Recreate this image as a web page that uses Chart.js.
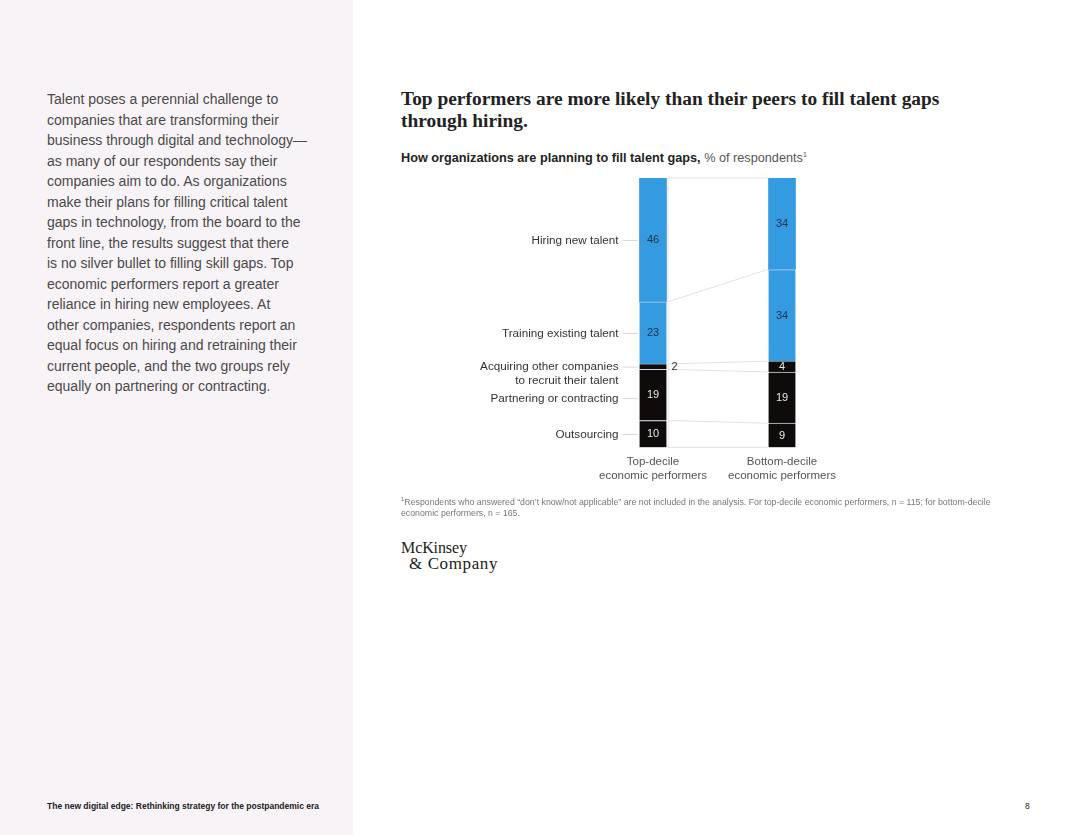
<!DOCTYPE html>
<html lang="en">
<head>
    <meta charset="UTF-8">
    <title>Talent gaps</title>
    <script src="https://cdn.jsdelivr.net/npm/chart.js"></script>
    <style>
        html, body { margin: 0; padding: 0; }
        body { width: 1080px; height: 835px; position: relative; background: #fff; overflow: hidden;
               font-family: "Liberation Sans", Arial, sans-serif; }
        .side { position: absolute; left: 0; top: 0; width: 353px; height: 835px; background: #f8f3f6; }
        .intro { position: absolute; left: 47px; top: 89px; font-size: 14px; line-height: 20.5px; color: #4a4a4a; }
        .title { position: absolute; left: 401px; top: 88px; font-family: "Liberation Serif", serif; font-weight: bold;
                 font-size: 19.4px; line-height: 22px; color: #222; }
        .subtitle { position: absolute; left: 401px; top: 151px; font-size: 12.7px; color: #222; }
        .subtitle b { font-weight: bold; }
        .subtitle span { color: #555; }
        .note { position: absolute; left: 401px; top: 494px; font-size: 8.75px; line-height: 11.5px; color: #777; }
        .logo { position: absolute; left: 401px; top: 540px; font-family: "Liberation Serif", serif; font-size: 16px;
                line-height: 16px; color: #222; }
        .logo .l1 { letter-spacing: -0.1px; }
        .logo .l2 { padding-left: 8px; font-size: 17px; letter-spacing: 0.6px; }
        .foot { position: absolute; top: 801px; font-size: 8.5px; color: #222; }
        #chart { position: absolute; left: 390px; top: 160px; }
    </style>
</head>
<body>
    <div class="side"></div>
    <div class="intro">
        Talent poses a perennial challenge to<br>
        companies that are transforming their<br>
        business through digital and technology—<br>
        as many of our respondents say their<br>
        companies aim to do. As organizations<br>
        make their plans for filling critical talent<br>
        gaps in technology, from the board to the<br>
        front line, the results suggest that there<br>
        is no silver bullet to filling skill gaps. Top<br>
        economic performers report a greater<br>
        reliance in hiring new employees. At<br>
        other companies, respondents report an<br>
        equal focus on hiring and retraining their<br>
        current people, and the two groups rely<br>
        equally on partnering or contracting.
    </div>
    <div class="title">Top performers are more likely than their peers to fill talent gaps<br>through hiring.</div>
    <div class="subtitle"><b>How organizations are planning to fill talent gaps,</b> <span>% of respondents<sup style="font-size:7px">1</sup></span></div>
    <canvas id="chart" width="480" height="340"></canvas>
    <div class="note">
        <sup style="font-size:6px">1</sup>Respondents who answered “don’t know/not applicable” are not included in the analysis. For top-decile economic performers, n = 115; for bottom-decile<br>
        economic performers, n = 165.
    </div>
    <div class="logo"><div class="l1">McKinsey</div><div class="l2">&amp; Company</div></div>
    <div class="foot" style="left:47px; font-weight:bold;">The new digital edge: Rethinking strategy for the postpandemic era</div>
    <div class="foot" style="left:1025px;">8</div>

    <script>
        // data, top of the stack first
        const groups = [['Top-decile', 'economic performers'], ['Bottom-decile', 'economic performers']];
        const methods = ['Hiring new talent', 'Training existing talent', 'Acquiring other companies\nto recruit their talent', 'Partnering or contracting', 'Outsourcing'];
        const topDecile = [46, 23, 2, 19, 10];
        const bottomDecile = [34, 34, 4, 19, 9];

        const BLUE = '#359be0';
        const BLACK = '#100b0b';
        const colors = [BLUE, BLUE, BLACK, BLACK, BLACK];

        // chart.js stacks from the bottom, so reverse
        const datasets = methods.map((m, i) => ({
            label: m,
            data: [topDecile[i], bottomDecile[i]],
            backgroundColor: colors[i],
            borderColor: i === 2 ? '#9aa0a8' : 'rgba(200,210,225,0.8)',
            borderWidth: i === 0 ? 0 : { top: 1, right: 0, bottom: 0, left: 0 },
            borderSkipped: false,
            barThickness: 27,
            textColor: colors[i] === BLUE ? '#20324a' : '#e8e8e8'
        })).reverse();

        const overlay = {
            id: 'overlay',
            afterDatasetsDraw(chart) {
                const ctx = chart.ctx;
                const metas = chart.data.datasets.map((d, i) => chart.getDatasetMeta(i));
                ctx.save();

                // connectors between the two bars + frame
                ctx.strokeStyle = '#e4e0e6';
                ctx.lineWidth = 1;
                metas.forEach(meta => {
                    const a = meta.data[0], b = meta.data[1];
                    const ax = a.x + a.width / 2 + 1, bx = b.x - b.width / 2 - 1;
                    ctx.beginPath();
                    ctx.moveTo(ax, a.y); ctx.lineTo(bx, b.y);
                    ctx.stroke();
                });
                const a0 = metas[0].data[0], b0 = metas[0].data[1];
                ctx.beginPath();
                ctx.moveTo(a0.x + a0.width / 2 + 1, a0.base); ctx.lineTo(b0.x - b0.width / 2 - 1, b0.base);
                ctx.stroke();
                const top = metas[metas.length - 1].data[0];
                ctx.beginPath();
                ctx.moveTo(top.x + top.width / 2 + 1.5, top.y); ctx.lineTo(top.x + top.width / 2 + 1.5, a0.base);
                ctx.stroke();

                // values
                ctx.font = '11px "Liberation Sans", Arial, sans-serif';
                ctx.textBaseline = 'middle';
                chart.data.datasets.forEach((ds, i) => {
                    metas[i].data.forEach((el, j) => {
                        const v = ds.data[j];
                        const cy = (el.y + el.base) / 2 + 0.5;
                        if (v < 3) {
                            ctx.fillStyle = '#333';
                            ctx.textAlign = 'left';
                            ctx.fillText(v, el.x + el.width / 2 + 5, cy);
                        } else {
                            ctx.fillStyle = ds.textColor;
                            ctx.textAlign = 'center';
                            ctx.fillText(v, el.x, cy);
                        }
                    });
                });

                // category labels on the left of the first bar, top to bottom,
                // pushed down if they would crowd the label above
                ctx.font = '11.7px "Liberation Sans", Arial, sans-serif';
                ctx.textAlign = 'right';
                let lastY = -Infinity;
                for (let i = chart.data.datasets.length - 1; i >= 0; i--) {
                    const ds = chart.data.datasets[i];
                    const el = metas[i].data[0];
                    const cy = Math.max((el.y + el.base) / 2 + 0.5, lastY + 18);
                    const left = el.x - el.width / 2;
                    ctx.strokeStyle = '#d8d8d8';
                    ctx.beginPath();
                    ctx.moveTo(left - 17, cy); ctx.lineTo(left - 2, cy);
                    ctx.stroke();
                    ctx.fillStyle = '#333';
                    const lines = ds.label.split('\n');
                    lines.forEach((line, k) => {
                        ctx.fillText(line, left - 21, cy + k * 13.5);
                    });
                    lastY = cy + (lines.length - 1) * 13.5;
                }
                ctx.restore();
            }
        };

        new Chart(document.getElementById('chart'), {
            type: 'bar',
            data: { labels: groups, datasets: datasets },
            options: {
                responsive: false,
                animation: false,
                layout: { padding: { left: 198.5, right: 23.5, top: 18, bottom: 9 } },
                plugins: { legend: { display: false }, tooltip: { enabled: false } },
                scales: {
                    x: {
                        stacked: true,
                        grid: { display: false, drawTicks: false },
                        border: { display: false },
                        ticks: { color: '#555', padding: 8, font: { size: 11.5, family: '"Liberation Sans", Arial, sans-serif', lineHeight: 1.2 } }
                    },
                    y: { stacked: true, display: false, min: 0, max: 100 }
                }
            },
            plugins: [overlay]
        });
    </script>
</body>
</html>
